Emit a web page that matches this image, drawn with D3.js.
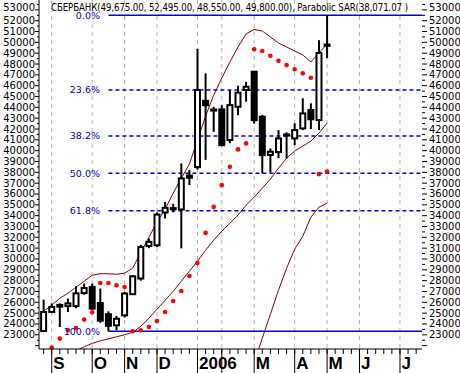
<!DOCTYPE html>
<html>
<head>
<meta charset="utf-8">
<script src="https://cdn.jsdelivr.net/npm/d3@7"></script>
<style>
  body { margin: 0; background: #fff; }
  svg { display: block; font-family: "DejaVu Sans", Verdana, sans-serif; }
</style>
</head>
<body>
<svg id="chart" width="460" height="373"></svg>
<script>
// weekly candles, index 0 = last week of Aug 2005
const opens  = [23350, 25110, 25600, 25650, 25650, 26850, 27420, 25940, 24900, 23880, 24800, 26750,
                28200, 31200, 31270, 34290, 34700, 34570, 37700, 38480, 44600, 43700, 43810, 40980,
                44050, 45600, 47290, 43130, 39600, 39870, 41400, 41130, 42060, 43750, 42820, 49675];
const highs  = [26250, 25900, 25900, 26350, 27480, 27730, 27730, 27270, 25170, 24740, 26960, 28500,
                31300, 31900, 34300, 35270, 35100, 38820, 38200, 49400, 47140, 44050, 44210, 45600,
                46000, 46360, 47290, 43300, 40210, 41900, 41700, 42520, 44830, 44370, 50200, 52495];
const lows   = [23330, 25000, 23720, 25100, 25450, 26700, 25330, 24110, 23320, 23420, 24590, 26700,
                28000, 31000, 31100, 33740, 34300, 30980, 36820, 38270, 39150, 41740, 40400, 40700,
                43280, 44520, 42500, 37900, 38000, 39300, 39280, 40510, 41900, 42000, 41900, 48550];
const closes = [25110, 25570, 25750, 25900, 26830, 27320, 25420, 24300, 23830, 24480, 26810, 28400,
                31100, 31580, 34100, 34720, 34650, 37440, 37500, 45600, 44200, 43800, 40510, 44210,
                45350, 45900, 42820, 39580, 39900, 41130, 41500, 41900, 43440, 42900, 49020, 49800];

const sar = [null, 21817, 22650, 23416, 23630, 24405, 25080, 27787, 27787, 27575, 27418, 23323,
             23416, 23720, 24275, 25107, 26124, 27048, 28434, 29636, 32410, 34810, 36817, 38508,
             40116, 40670, 49360, 49200, 48767, 48300, 47900, 47510, 47140, 46730, 37835, 38071];

const upperBand = [25172, 25726, 26373, 26835, 27390, 27944, 28499, 28638, 28638, 28591, 28684, 29146,
                   30625, 32011, 33397, 34599, 36078, 37464, 38758, 40976, 43194, 45135, 46706, 48185,
                   49571, 50773, 51188, 51050, 50495, 49940, 49571, 49202, 48832, 48185, 49016, 49848];
const lowerBand = [null, null, null, null, 21521, 21891, 22214, 22445, 22630, 22815, 23000, 23231,
                   23786, 24525, 25357, 26188, 27020, 27944, 28869, 29793, 30809, 31733, 32565, 33305,
                   34044, 34968, 35708, 36540, 37372, 38388, 39313, 39960, 40422, 40884, 41623, 42547];
const extraLine = [null, null, null, null, null, null, null, null, null, null, null, null,
                   null, null, null, null, null, null, null, null, null, null, null, null,
                   null, null, 20460, 22677, 24895, 27113, 29146, 30902, 32103, 33859, 34783, 35153];

const monthLabels = ["S", "O", "N", "D", "2006", "", "M", "A", "M", "J", "J"];
const monthWeeks  = [1, 6, 10, 14, 19, 22, 26, 31, 35, 39, 44];

const fibLevels = [0, 0.236, 0.382, 0.5, 0.618, 1];
const fibLabels = ["0.0%", "23.6%", "38.2%", "50.0%", "61.8%", "100.0%"];
const fibHigh = 52495, fibLow = 23320, fibStartWeek = 8;

const title = "СБЕРБАНК(49,675.00, 52,495.00, 48,550.00, 49,800.00), Parabolic SAR(38,071.07 )";

const plot = {left: 39, right: 422, top: 0, bottom: 349};
const BLUE = "#0000d0", BAND = "#8b0000";

const svg = d3.select("#chart");
const x = d3.scaleLinear().domain([-0.57, 46.72]).range([plot.left, plot.right]);
const y = d3.scaleLinear().domain([21690, 53910]).range([plot.bottom, plot.top]);

svg.append("defs").append("clipPath").attr("id", "plotClip")
  .append("rect")
  .attr("x", plot.left).attr("y", plot.top)
  .attr("width", plot.right - plot.left).attr("height", plot.bottom - plot.top);

const body = svg.append("g").attr("clip-path", "url(#plotClip)");

// month grid
body.selectAll("line.grid").data(monthWeeks).enter().append("line")
  .attr("class", "grid")
  .attr("x1", d => x(d)).attr("x2", d => x(d))
  .attr("y1", plot.top).attr("y2", plot.bottom)
  .attr("stroke", "#b4b4b4").attr("stroke-dasharray", "4,4");

// bands
const line = d3.line()
  .defined(d => d != null)
  .x((d, i) => x(i))
  .y(d => y(d));

[upperBand, lowerBand, extraLine].forEach(series => {
  body.append("path")
    .attr("d", line(series))
    .attr("fill", "none")
    .attr("stroke", BAND)
    .attr("stroke-width", 1);
});

// fibonacci retracement
fibLevels.forEach((lvl, k) => {
  const v = fibHigh - lvl * (fibHigh - fibLow);
  const solid = lvl === 0 || lvl === 1;
  body.append("line")
    .attr("x1", x(fibStartWeek)).attr("x2", plot.right)
    .attr("y1", y(v)).attr("y2", y(v))
    .attr("stroke", BLUE)
    .attr("stroke-width", 1.5)
    .attr("stroke-dasharray", solid ? null : "4,3");
});

// candles
const candles = body.selectAll("g.candle").data(opens.map((o, i) => ({
  i, o, h: highs[i], l: lows[i], c: closes[i]
}))).enter().append("g").attr("class", "candle");

candles.append("line")
  .attr("x1", d => x(d.i)).attr("x2", d => x(d.i))
  .attr("y1", d => y(d.h)).attr("y2", d => y(d.l))
  .attr("stroke", "#000").attr("stroke-width", 2);

candles.append("rect")
  .attr("x", d => x(d.i) - 2.5)
  .attr("width", 5)
  .attr("y", d => y(Math.max(d.o, d.c)))
  .attr("height", d => Math.max(Math.abs(y(d.o) - y(d.c)), 1))
  .attr("fill", d => d.c >= d.o ? "#fff" : "#000")
  .attr("stroke", "#000").attr("stroke-width", 2);

// parabolic SAR
body.selectAll("circle.sar").data(sar.map((v, i) => ({i, v})).filter(d => d.v != null))
  .enter().append("circle")
  .attr("class", "sar")
  .attr("cx", d => x(d.i)).attr("cy", d => y(d.v))
  .attr("r", 2.3)
  .attr("fill", "#ff0000");

// fib labels
fibLevels.forEach((lvl, k) => {
  const v = fibHigh - lvl * (fibHigh - fibLow);
  svg.append("text")
    .attr("x", 100).attr("y", y(v)).attr("dy", "0.35em")
    .attr("text-anchor", "end")
    .attr("font-size", 9.5)
    .attr("fill", BLUE)
    .text(fibLabels[k]);
});

// value axes, both sides
const majorTicks = d3.range(23000, 53001, 1000);
const minorTicks = d3.range(22000, 53501, 500).filter(v => v % 1000 !== 0);

svg.append("line")
  .attr("x1", plot.left).attr("x2", plot.left)
  .attr("y1", plot.top).attr("y2", plot.bottom)
  .attr("stroke", "#000");

const yAxis = svg.append("g");
majorTicks.concat([22000]).forEach(v => {
  yAxis.append("line").attr("x1", plot.left - 4).attr("x2", plot.left)
    .attr("y1", y(v)).attr("y2", y(v)).attr("stroke", "#000");
  yAxis.append("line").attr("x1", plot.right).attr("x2", plot.right + 5)
    .attr("y1", y(v)).attr("y2", y(v)).attr("stroke", "#000");
});
minorTicks.forEach(v => {
  yAxis.append("line").attr("x1", plot.left - 2).attr("x2", plot.left)
    .attr("y1", y(v)).attr("y2", y(v)).attr("stroke", "#000");
  yAxis.append("line").attr("x1", plot.right).attr("x2", plot.right + 3)
    .attr("y1", y(v)).attr("y2", y(v)).attr("stroke", "#000");
});
majorTicks.forEach(v => {
  // the top label sits a little higher in the original
  const ty = v === 53000 ? y(v) - 2.5 : y(v);
  yAxis.append("text")
    .attr("x", 35).attr("y", ty).attr("dy", "0.35em")
    .attr("text-anchor", "end").attr("font-size", 10)
    .text(v);
  yAxis.append("text")
    .attr("x", 429).attr("y", ty).attr("dy", "0.35em")
    .attr("font-size", 10)
    .text(v);
});

// time axis
const xAxis = svg.append("g");
xAxis.append("line")
  .attr("x1", plot.left).attr("x2", plot.right)
  .attr("y1", plot.bottom).attr("y2", plot.bottom)
  .attr("stroke", "#000");

d3.range(0, 47).forEach(i => {
  xAxis.append("line")
    .attr("x1", x(i)).attr("x2", x(i))
    .attr("y1", plot.bottom).attr("y2", plot.bottom + 5)
    .attr("stroke", "#000");
});

monthWeeks.forEach((w, k) => {
  xAxis.append("line")
    .attr("x1", x(w)).attr("x2", x(w))
    .attr("y1", plot.bottom).attr("y2", 373)
    .attr("stroke", "#000");
  xAxis.append("text")
    .attr("x", x(w) + 1.5).attr("y", 368.5)
    .attr("font-family", "'Liberation Sans', Arial, sans-serif")
    .attr("font-weight", "bold").attr("font-size", 17)
    .text(monthLabels[k]);
});

// title
svg.append("text")
  .attr("x", 51).attr("y", 10.5)
  .attr("font-family", "'DejaVu Sans Condensed', 'DejaVu Sans', sans-serif")
  .attr("font-size", 9.6)
  .attr("textLength", 357)
  .text(title);
</script>
</body>
</html>
